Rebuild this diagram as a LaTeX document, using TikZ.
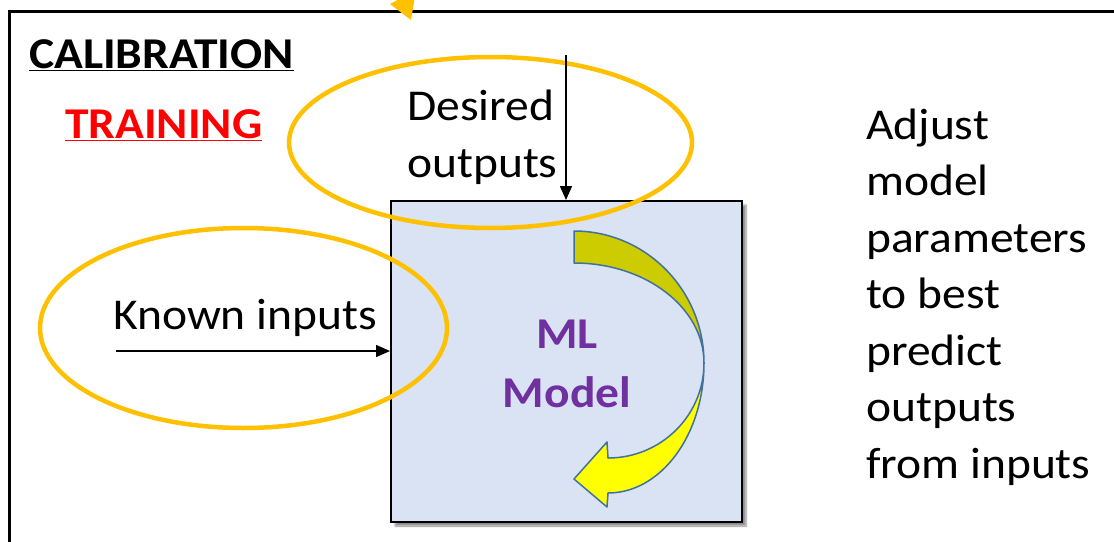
\documentclass[tikz,border=0pt]{standalone}
\usepackage{fontspec}
\setmainfont[FakeStretch=1.08]{Carlito}
\usetikzlibrary{arrows.meta,shapes.geometric,shadows.blur}
\definecolor{ringorange}{HTML}{FFC000}
\definecolor{boxblue}{HTML}{DAE3F3}
\definecolor{mlpurple}{HTML}{7030A0}
\definecolor{arrowyellow}{HTML}{FFFF00}
\definecolor{arrowolive}{HTML}{CCCC00}
\definecolor{arrowedge}{HTML}{41719C}
\tikzset{
  ring/.style={ellipse, draw=ringorange, line width=4.5pt, inner sep=0pt},
  modelbox/.style={draw=black, line width=2pt, fill=boxblue, inner sep=0pt,
    blur shadow={shadow xshift=4pt, shadow yshift=-4pt, shadow blur steps=6, shadow opacity=45}},
  plain/.style={font=\fontsize{44}{56.5}\selectfont, inner sep=0pt, text=black},
  heading/.style={font=\fontsize{44}{59}\selectfont\bfseries, inner sep=0pt},
  feed/.style={line width=1.5pt, -{Triangle[length=14pt,width=12pt]}},
  turnedge/.style={draw=arrowedge, line width=1.5pt, line join=round},
}
\begin{document}
\begin{tikzpicture}[x=1pt,y=-1pt]
\useasboundingbox (0,0) rectangle (1114,541);
\clip (0,0) rectangle (1114,541);
% frame (cut off at right and bottom)
\draw[line width=3pt] (1125,11) -- (9,11) -- (9,550);
\fill[ringorange] (390,4) -- (416,-10) -- (411,20) -- cycle;
% model box
\node[modelbox, minimum width=351pt, minimum height=321pt] (box) at (566.5,361.5) {};
% rings
\node[ring, minimum width=403pt, minimum height=171pt] (ringout) at (490.5,142.5) {};
\node[ring, minimum width=407pt, minimum height=200pt] (ringin) at (243.5,328) {};
% connectors
\coordinate (kin) at (116,351);
\draw[feed] (kin) -- (kin -| box.west);
\coordinate (dout) at (566,55);
\draw[feed] (dout) -- (dout |- box.north);
% curved adjust arrow
\filldraw[turnedge, fill=arrowolive] (574,231) .. controls (645.8,231) and (704,290.1) .. (704,363)
  .. controls (704,307.8) and (645.8,263) .. (574,263) -- cycle;
\filldraw[turnedge, fill=arrowyellow] (704,363) .. controls (704,415.5) and (661,458) .. (608,458)
  -- (607,442) -- (574,479) -- (607,507) -- (608,493)
  .. controls (661,493) and (704,434.8) .. (704,363) -- cycle;
% texts
\node[heading, anchor=base west] (calib) at (29,68) {\underline{CALIBRATION}};
\node[heading, anchor=base west, text=red] (train) at (65,138) {\underline{TRAINING}};
\node[plain, anchor=base west] (known) at (113,329) {Known inputs};
\node[plain, anchor=base west, align=left] (desired) at (407,177) {Desired\\outputs};
\node[heading, anchor=base, text=mlpurple, align=center] (ml) at (567,407) {ML\\Model};
\node[plain, anchor=base west, align=left] (adjust) at (866,478) {Adjust\\model\\parameters\\to best\\predict\\outputs\\from inputs};
\end{tikzpicture}
\end{document}
